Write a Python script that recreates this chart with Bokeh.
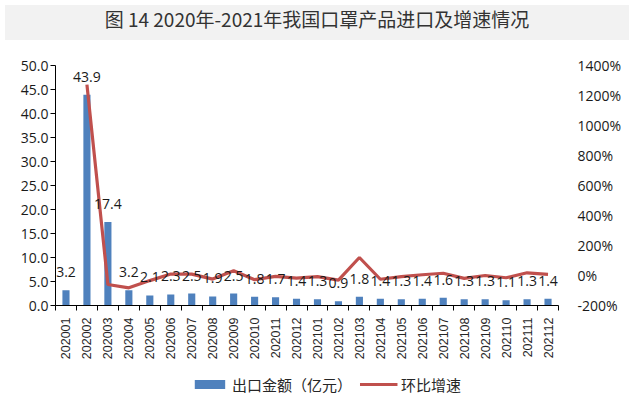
import numpy as np
from bokeh.plotting import figure
from bokeh.models import (Range1d, LinearAxis, FixedTicker, NumeralTickFormatter,
                          PrintfTickFormatter, Legend, LegendItem, Div, ColumnDataSource,
                          Spacer)
from bokeh.layouts import column, row
from bokeh.core.properties import value
from bokeh.embed import file_html
from bokeh.resources import INLINE

chart_title = "图 14 2020年-2021年我国口罩产品进口及增速情况"
months = ["202001", "202002", "202003", "202004", "202005", "202006",
          "202007", "202008", "202009", "202010", "202011", "202012",
          "202101", "202102", "202103", "202104", "202105", "202106",
          "202107", "202108", "202109", "202110", "202111", "202112"]
export_value = [3.2, 43.9, 17.4, 3.2, 2.1, 2.3, 2.5, 1.9, 2.5, 1.8, 1.7, 1.4,
                1.3, 0.9, 1.8, 1.4, 1.3, 1.4, 1.6, 1.3, 1.3, 1.1, 1.3, 1.4]
mom_growth = [np.nan, 1272, -60, -82, -34, 10, 9, -24, 32, -28, -6, -18,
              -7, -31, 120, -25, -7, 5, 15, -19, 0, -15, 18, 8]
left_ticks = [0, 5, 10, 15, 20, 25, 30, 35, 40, 45, 50]
right_ticks = [-200, 0, 200, 400, 600, 800, 1000, 1200, 1400]
bar_label = "出口金额（亿元）"
line_label = "环比增速"

BAR_COLOR = "#4F81BD"
LINE_COLOR = "#C0504D"

n = len(months)
centers = [i + 0.5 for i in range(n)]
bounds = [float(i) for i in range(n + 1)]

src = ColumnDataSource(dict(x=centers, v=export_value, g=mom_growth,
                            t=[f"{v:.1f}" for v in export_value]))

FONT = "Open Sans"
TXT = "#1a1a1a"

p = figure(width=624, height=320, x_range=Range1d(0, n), y_range=Range1d(0, 50),
           output_backend="svg", toolbar_location=None,
           x_axis_location=None, y_axis_location=None,
           min_border_left=55, min_border_right=64, min_border_top=20,
           min_border_bottom=60, outline_line_color=None)
p.xgrid.visible = False
p.ygrid.visible = False
p.extra_y_ranges = {"pct": Range1d(-200, 1400)}

p.vbar(x="x", top="v", width=0.34, source=src, fill_color=BAR_COLOR, line_color=None)
p.line(x="x", y="g", source=src, y_range_name="pct", line_color=LINE_COLOR,
       line_width=3.2)
p.text(x="x", y="v", text="t", source=src, text_align="center",
       text_baseline="middle", y_offset=-18, text_font=value(FONT),
       text_font_size="14px", text_color=TXT)

# left axis
ya = LinearAxis(ticker=FixedTicker(ticks=left_ticks),
                formatter=NumeralTickFormatter(format="0.0"))
ya.major_tick_out = 5
ya.major_tick_in = 0
ya.minor_tick_out = 0
ya.minor_tick_in = 0
ya.major_label_standoff = 2
ya.axis_line_color = "#000000"
ya.major_tick_line_color = "#000000"
ya.major_label_text_font = FONT
ya.major_label_text_font_size = "14px"
ya.major_label_text_color = TXT
p.add_layout(ya, "left")

# right axis
ra = LinearAxis(y_range_name="pct", ticker=FixedTicker(ticks=right_ticks),
                formatter=PrintfTickFormatter(format="%d%%"))
ra.axis_line_color = None
ra.major_tick_line_color = None
ra.minor_tick_line_color = None
ra.major_tick_out = 0
ra.major_label_standoff = 19
ra.major_label_text_font = FONT
ra.major_label_text_font_size = "14px"
ra.major_label_text_color = TXT
p.add_layout(ra, "right")

# bottom axis: labels at category centres, ticks between categories
xa = LinearAxis(ticker=FixedTicker(ticks=centers, minor_ticks=bounds))
xa.major_label_overrides = {c: m for c, m in zip(centers, months)}
xa.major_tick_out = 0
xa.major_tick_in = 0
xa.minor_tick_out = 5
xa.minor_tick_in = 0
xa.minor_tick_line_color = "#000000"
xa.axis_line_color = "#000000"
xa.major_label_orientation = np.pi / 2
xa.major_label_standoff = 7
xa.major_label_text_font = "Liberation Sans"
xa.major_label_text_font_size = "12.5px"
xa.major_label_text_color = "#262626"
p.add_layout(xa, "below")

# legend in its own strip below the chart; its renderers share the data but
# lie far outside this strip's ranges, so only the legend itself is visible
lf = figure(width=597, height=38, x_range=Range1d(1000, 1001),
            y_range=Range1d(5000, 5001),
            output_backend="svg", toolbar_location=None,
            x_axis_location=None, y_axis_location=None,
            min_border_left=0, min_border_right=0, min_border_top=0,
            min_border_bottom=0, outline_line_color=None)
lf.xgrid.visible = False
lf.ygrid.visible = False
lb = lf.vbar(x="x", top="v", width=0.34, source=src, fill_color=BAR_COLOR,
             line_color=None)
ll = lf.line(x="x", y="g", source=src, line_color=LINE_COLOR, line_width=3.2)
legend = Legend(items=[LegendItem(label=bar_label, renderers=[lb]),
                       LegendItem(label=line_label, renderers=[ll])],
                orientation="horizontal", location="center",
                glyph_width=38, glyph_height=11, label_standoff=4, spacing=7,
                label_text_font="Noto Sans CJK SC", label_text_font_size="15px",
                label_text_color="#262626", border_line_color=None,
                background_fill_alpha=0, padding=4, margin=0)
lf.add_layout(legend, "center")

header = Div(text=f'<div style="width:624px;height:35px;line-height:28px;'
                  f'text-align:center;font-family:\'Noto Sans CJK SC\';'
                  f'font-size:19px;color:#333333;">{chart_title}</div>',
             width=624, height=35, styles={"background-color": "#f2f2f2"})

layout = column(header, p,
                row(Spacer(width=27, height=38), lf, spacing=0),
                Spacer(width=624, height=8), spacing=0)
open("out.html", "w").write(file_html(layout, INLINE))
